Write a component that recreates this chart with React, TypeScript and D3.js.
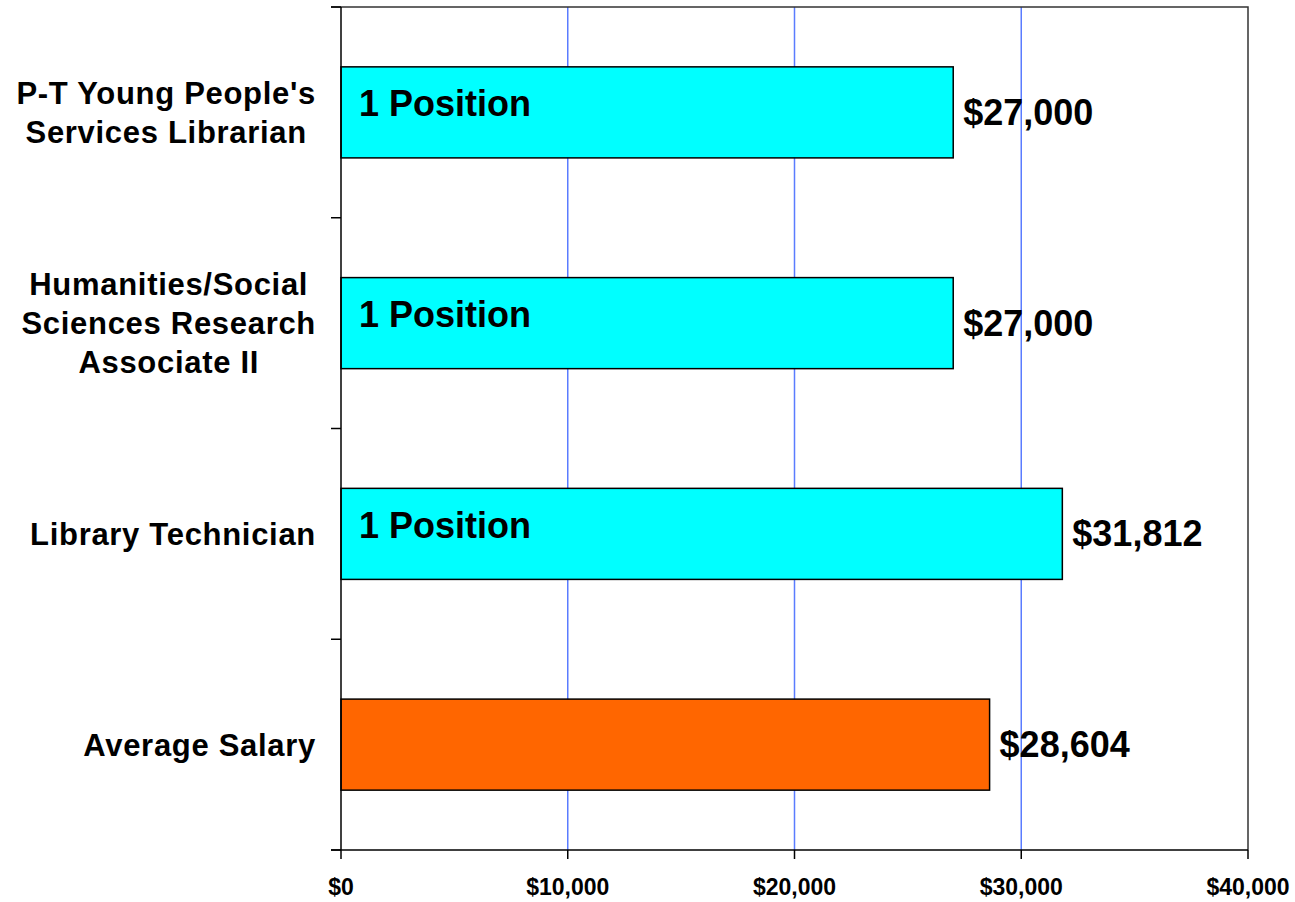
import React, { useRef, useEffect } from "react";
import * as d3 from "d3";

// categories, top to bottom (line breaks as in the picture)
const categoryLines: string[][] = [
  ["P-T Young People's", "Services Librarian"],
  ["Humanities/Social", "Sciences Research", "Associate II"],
  ["Library Technician"],
  ["Average Salary"],
];
const salaries = [27000, 27000, 31812, 28604];
const positionLabels = ["1 Position", "1 Position", "1 Position", ""];
const xTicks = [0, 10000, 20000, 30000, 40000];

const App = () => {
  const chartRef = useRef<HTMLDivElement>(null);

  useEffect(() => {
    drawChart();
  }, []);

  const drawChart = () => {
    const svgWidth = 1295;
    const svgHeight = 902;
    const left = 341;
    const right = 1248;
    const top = 7;
    const bottom = 850;
    const font = "'Liberation Sans', Arial, sans-serif";

    d3.select(chartRef.current).selectAll("svg").remove();

    const svg = d3
      .select(chartRef.current)
      .append("svg")
      .attr("width", svgWidth)
      .attr("height", svgHeight)
      .style("display", "block")
      .style("background", "#fff");

    const keys = categoryLines.map((d) => d.join(" "));
    const x = d3.scaleLinear().domain([0, 40000]).range([left, right]);
    const y = d3
      .scaleBand()
      .domain(keys)
      .range([top, bottom])
      .paddingInner(0.568)
      .paddingOuter(0.284);
    const step = y.step();

    // gridlines
    svg
      .selectAll(".grid")
      .data(xTicks.slice(1, -1))
      .enter()
      .append("line")
      .attr("x1", (d) => x(d))
      .attr("x2", (d) => x(d))
      .attr("y1", top)
      .attr("y2", bottom)
      .attr("stroke", "#5a7cff")
      .attr("stroke-width", 1.5);

    // frame top / right
    svg
      .append("path")
      .attr("d", `M${left - 10},${top}H${right}V${bottom}`)
      .attr("fill", "none")
      .attr("stroke", "#333")
      .attr("stroke-width", 1.5);

    // bars
    svg
      .selectAll(".bar")
      .data(salaries)
      .enter()
      .append("rect")
      .attr("x", x(0))
      .attr("y", (d, i) => y(keys[i]) as number)
      .attr("width", (d) => x(d) - x(0))
      .attr("height", y.bandwidth())
      .attr("fill", (d, i) => (i === salaries.length - 1 ? "#ff6600" : "#00ffff"))
      .attr("stroke", "#000")
      .attr("stroke-width", 1.5);

    // value labels
    svg
      .selectAll(".val")
      .data(salaries)
      .enter()
      .append("text")
      .attr("x", (d) => x(d) + 10)
      .attr("y", (d, i) => (y(keys[i]) as number) + y.bandwidth() / 2 + 12.5)
      .attr("font-family", font)
      .attr("font-weight", "bold")
      .attr("font-size", 36)
      .attr("fill", "#000")
      .text((d) => d3.format("$,")(d));

    // "1 Position" labels
    svg
      .selectAll(".pos")
      .data(positionLabels)
      .enter()
      .append("text")
      .attr("x", x(0) + 18)
      .attr("y", (d, i) => (y(keys[i]) as number) + y.bandwidth() / 2 + 4)
      .attr("font-family", font)
      .attr("font-weight", "bold")
      .attr("font-size", 36)
      .attr("fill", "#000")
      .text((d) => d);

    // left axis
    svg
      .append("line")
      .attr("x1", left)
      .attr("x2", left)
      .attr("y1", top)
      .attr("y2", bottom)
      .attr("stroke", "#000")
      .attr("stroke-width", 1.5);
    svg
      .selectAll(".ytick")
      .data(d3.range(keys.length + 1))
      .enter()
      .append("line")
      .attr("x1", left - 10)
      .attr("x2", left)
      .attr("y1", (i) => top + i * step)
      .attr("y2", (i) => top + i * step)
      .attr("stroke", "#000")
      .attr("stroke-width", 1.5);

    // bottom axis
    svg
      .append("line")
      .attr("x1", left - 10)
      .attr("x2", right)
      .attr("y1", bottom)
      .attr("y2", bottom)
      .attr("stroke", "#000")
      .attr("stroke-width", 1.5);
    svg
      .selectAll(".xtick")
      .data(xTicks)
      .enter()
      .append("line")
      .attr("x1", (d) => x(d))
      .attr("x2", (d) => x(d))
      .attr("y1", bottom)
      .attr("y2", bottom + 9)
      .attr("stroke", "#000")
      .attr("stroke-width", 1.5);
    svg
      .selectAll(".xlabel")
      .data(xTicks)
      .enter()
      .append("text")
      .attr("x", (d) => x(d))
      .attr("y", 895)
      .attr("text-anchor", "middle")
      .attr("font-family", font)
      .attr("font-weight", "bold")
      .attr("font-size", 23)
      .attr("fill", "#000")
      .text((d) => d3.format("$,")(d));

    // category labels: block right-aligned, lines centred within block
    const lineHeight = 39;
    const labelRight = 316;
    categoryLines.forEach((lines, i) => {
      const cy = (y(keys[i]) as number) + y.bandwidth() / 2;
      const g = svg.append("g");
      const texts = g
        .selectAll("text")
        .data(lines)
        .enter()
        .append("text")
        .attr("font-family", font)
        .attr("font-weight", "bold")
        .attr("font-size", 31)
        .attr("letter-spacing", 0.7)
        .attr("text-anchor", "middle")
        .attr("fill", "#000")
        .text((d) => d);
      let maxW = 0;
      texts.each(function () {
        maxW = Math.max(maxW, (this as SVGTextElement).getComputedTextLength());
      });
      const firstBaseline = cy - ((lines.length - 1) * lineHeight) / 2 + 11;
      texts
        .attr("x", labelRight - maxW / 2)
        .attr("y", (d, j) => firstBaseline + j * lineHeight);
    });
  };

  return (
    <div
      ref={chartRef}
      style={{ position: "absolute", left: 0, top: 0 }}
    ></div>
  );
};

export default App;
